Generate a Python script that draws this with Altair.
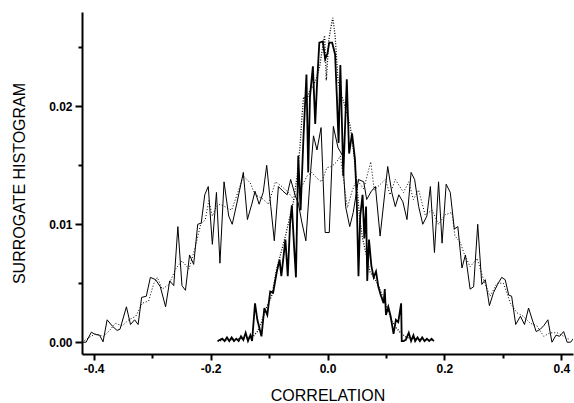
import altair as alt
import pandas as pd

# ---- data ----
wide_solid_x = [-0.42, -0.413, -0.404, -0.397, -0.39, -0.384, -0.377, -0.368, -0.36, -0.355,
                -0.344, -0.337, -0.33, -0.324, -0.318, -0.31, -0.303, -0.294, -0.286, -0.277,
                -0.27, -0.263, -0.256, -0.249, -0.243, -0.236, -0.229, -0.222, -0.216, -0.21,
                -0.204, -0.197, -0.19, -0.184, -0.177, -0.169, -0.163, -0.155, -0.144, -0.137,
                -0.129, -0.124, -0.117, -0.11, -0.104, -0.097, -0.091, -0.084, -0.076, -0.069,
                -0.063, -0.055, -0.05, -0.044, -0.037, -0.029, -0.024, -0.018, -0.011, -0.004,
                0.003, 0.01, 0.018, 0.026, 0.031, 0.038, 0.044, 0.053, 0.062, 0.067,
                0.075, 0.082, 0.09, 0.103, 0.11, 0.116, 0.122, 0.129, 0.136, 0.143,
                0.149, 0.156, 0.163, 0.17, 0.176, 0.183, 0.19, 0.196, 0.203, 0.21,
                0.217, 0.223, 0.23, 0.236, 0.244, 0.25, 0.257, 0.264, 0.27, 0.277,
                0.284, 0.291, 0.298, 0.304, 0.31, 0.315, 0.322, 0.33, 0.337, 0.344,
                0.351, 0.357, 0.364, 0.37, 0.377, 0.384, 0.391, 0.397, 0.404, 0.41,
                0.416, 0.422]
wide_solid_y = [0.0, 0.0, 0.00085, 0.00065, 0.0006, 0.00003, 0.0019, 0.00136, 0.001, 0.0011,
                0.003, 0.0015, 0.0019, 0.0015, 0.0038, 0.0039, 0.0055, 0.0053, 0.0047, 0.003,
                0.0052, 0.0048, 0.0098, 0.0048, 0.0044, 0.0074, 0.0066, 0.01, 0.0101, 0.0125,
                0.0132, 0.0083, 0.0127, 0.0067, 0.0136, 0.0107, 0.01, 0.0118, 0.0144, 0.0104,
                0.0118, 0.0128, 0.0117, 0.0127, 0.015, 0.0115, 0.0086, 0.0132, 0.0128, 0.0125,
                0.0138, 0.0124, 0.0118, 0.0102, 0.0086, 0.0144, 0.0175, 0.0163, 0.0182, 0.0093,
                0.0093, 0.0183, 0.0165, 0.0158, 0.0115, 0.0098, 0.011, 0.0138, 0.0136, 0.0121,
                0.0128, 0.0132, 0.009, 0.0149, 0.0127, 0.0115, 0.0125, 0.0119, 0.0104, 0.0144,
                0.0138, 0.0115, 0.01, 0.0107, 0.0132, 0.0076, 0.0136, 0.0084, 0.0134, 0.0127,
                0.0096, 0.0098, 0.0063, 0.0074, 0.0045, 0.0047, 0.01, 0.0049, 0.0053, 0.0031,
                0.0042, 0.0049, 0.0055, 0.0053, 0.004, 0.0039, 0.0015, 0.0022, 0.0015, 0.0029,
                0.0018, 0.0009, 0.0011, 0.0014, 0.0019, 0.0, 0.0006, 0.0005, 0.0009, 0.0,
                0.0, 0.0004]

wide_dot_x = [-0.42, -0.408, -0.397, -0.383, -0.371, -0.363, -0.351, -0.34, -0.328, -0.317,
              -0.306, -0.297, -0.291, -0.283, -0.271, -0.26, -0.249, -0.237, -0.226, -0.217,
              -0.209, -0.203, -0.197, -0.19, -0.184, -0.172, -0.164, -0.152, -0.144, -0.132,
              -0.124, -0.112, -0.101, -0.089, -0.078, -0.067, -0.058, -0.047, -0.035, -0.027,
              -0.018, -0.01, -0.001, 0.007, 0.016, 0.022, 0.029, 0.034, 0.042, 0.05,
              0.062, 0.074, 0.08, 0.099, 0.107, 0.116, 0.13, 0.139, 0.147, 0.156,
              0.167, 0.179, 0.19, 0.201, 0.213, 0.218, 0.227, 0.233, 0.244, 0.256,
              0.267, 0.278, 0.29, 0.301, 0.313, 0.324, 0.335, 0.347, 0.358, 0.37,
              0.381, 0.393, 0.404, 0.415]
wide_dot_y = [0.0, 0.0004, 0.0007, 0.0005, 0.0011, 0.0016, 0.0014, 0.0019, 0.0022, 0.0033,
              0.0035, 0.005, 0.0055, 0.0045, 0.0049, 0.0062, 0.0069, 0.0062, 0.0081, 0.01,
              0.0104, 0.012, 0.0107, 0.0115, 0.0117, 0.0114, 0.0112, 0.0129, 0.0141, 0.0135,
              0.0125, 0.0122, 0.0117, 0.0136, 0.0132, 0.0127, 0.0121, 0.0129, 0.0141, 0.0144,
              0.0139, 0.0136, 0.0148, 0.0149, 0.0153, 0.0158, 0.0132, 0.0114, 0.0128, 0.0138,
              0.013, 0.0153, 0.0129, 0.0138, 0.0125, 0.0138, 0.0127, 0.0136, 0.0121, 0.0129,
              0.0108, 0.0112, 0.01, 0.0108, 0.011, 0.009, 0.0085, 0.0076, 0.0064, 0.0071,
              0.0053, 0.0039, 0.005, 0.005, 0.0033, 0.0025, 0.0022, 0.0016, 0.0014, 0.0005,
              0.0008, 0.0008, 0.0005, 0.0002]

narrow_solid_x = [-0.188, -0.18, -0.176, -0.172, -0.168, -0.164, -0.16, -0.156, -0.152, -0.148,
                  -0.144, -0.14, -0.136, -0.132, -0.129, -0.124, -0.12, -0.113, -0.108, -0.103,
                  -0.098, -0.093, -0.087, -0.082, -0.079, -0.072, -0.068, -0.064, -0.061, -0.057,
                  -0.054, -0.05, -0.046, -0.041, -0.036, -0.033, -0.03, -0.025, -0.021, -0.018,
                  -0.014, -0.008, -0.004, 0.0, 0.003, 0.008, 0.013, 0.016, 0.019, 0.022,
                  0.025, 0.027, 0.033, 0.037, 0.042, 0.047, 0.05, 0.053, 0.056, 0.06,
                  0.063, 0.066, 0.068, 0.071, 0.075, 0.079, 0.083, 0.087, 0.091, 0.096,
                  0.098, 0.1, 0.104, 0.108, 0.113, 0.117, 0.121, 0.126, 0.127, 0.13,
                  0.134, 0.139, 0.143, 0.147, 0.15, 0.154, 0.158, 0.162, 0.166, 0.17,
                  0.174, 0.178, 0.182]
narrow_solid_y = [0.0001, 0.0003, 0.0001, 0.0004, 0.0001, 0.0004, 0.0001, 0.0003, 0.0001, 0.0005,
                  0.0002, 0.0008, 0.0001, 0.0006, 0.0001, 0.0033, 0.0019, 0.0005, 0.0029, 0.0023,
                  0.0043, 0.0042, 0.0059, 0.007, 0.0056, 0.0087, 0.0056, 0.0101, 0.0116, 0.008,
                  0.0055, 0.0158, 0.0112, 0.0175, 0.0227, 0.0144, 0.0208, 0.0234, 0.0185, 0.0218,
                  0.0254, 0.0255, 0.024, 0.0245, 0.0254, 0.0254, 0.0244, 0.0208, 0.0169, 0.0235,
                  0.018, 0.0141, 0.0223, 0.016, 0.0177, 0.0155, 0.0121, 0.0056, 0.0107, 0.0125,
                  0.0088, 0.0115, 0.0052, 0.0087, 0.0065, 0.0055, 0.006, 0.0047, 0.004, 0.0033,
                  0.0045, 0.0023, 0.003, 0.0022, 0.0007, 0.0019, 0.0017, 0.0033, 0.0001, 0.0001,
                  0.0002, 0.0008, 0.0001, 0.0006, 0.0001, 0.0004, 0.0001, 0.0004, 0.0001, 0.0003,
                  0.0001, 0.0003, 0.0001]

narrow_dot_x = [-0.188, -0.17, -0.15, -0.135, -0.127, -0.12, -0.115, -0.104, -0.095, -0.087,
                -0.08, -0.072, -0.065, -0.058, -0.052, -0.047, -0.044, -0.041, -0.036, -0.03,
                -0.024, -0.018, -0.013, -0.01, -0.005, -0.002, 0.002, 0.005, 0.009, 0.013,
                0.018, 0.022, 0.027, 0.033, 0.039, 0.044, 0.05, 0.055, 0.06, 0.066,
                0.073, 0.08, 0.087, 0.095, 0.103, 0.11, 0.118, 0.125, 0.135, 0.15,
                0.165, 0.18]
narrow_dot_y = [0.0001, 0.0002, 0.0003, 0.0004, 0.0005, 0.0009, 0.0014, 0.003, 0.004, 0.0062,
                0.0075, 0.009, 0.0105, 0.012, 0.0141, 0.0166, 0.0189, 0.0208, 0.0205, 0.0214,
                0.0218, 0.0225, 0.0235, 0.0245, 0.026, 0.0222, 0.0255, 0.0265, 0.0275, 0.026,
                0.0222, 0.0211, 0.0205, 0.0194, 0.0183, 0.0165, 0.0135, 0.0105, 0.0088, 0.0075,
                0.0059, 0.0055, 0.0048, 0.0038, 0.0028, 0.0018, 0.0012, 0.0008, 0.0004, 0.0003,
                0.0002, 0.0002]

x_major = [-0.4, -0.2, 0.0, 0.2, 0.4]
x_minor = [-0.3, -0.1, 0.1, 0.3]
y_major = [0.0, 0.01, 0.02]
y_minor = [0.005, 0.015, 0.025]

FONT = "Liberation Sans"

x_scale = alt.Scale(domain=[-0.42, 0.42], nice=False, zero=False)
y_scale = alt.Scale(domain=[-0.001, 0.028], nice=False, zero=False)


def frame(xs, ys):
    return pd.DataFrame({"corr": xs, "hist": ys})


common_axis = dict(grid=False, domainColor="black", domainWidth=2, tickColor="black",
                   tickWidth=2, labelFont=FONT, labelFontSize=12, labelFontWeight="bold",
                   labelColor="black", titleFont=FONT, titleFontSize=16,
                   titleFontWeight="normal", titleColor="black")

x_axis = alt.Axis(values=x_major, orient="bottom", tickSize=6, labelPadding=3,
                  labelExpr="datum.value < 0 ? '-' + format(-datum.value, '.1f') : format(datum.value, '.1f')",
                  title="CORRELATION", titleX=245.5, titleY=46, titleAlign="center",
                  titleBaseline="alphabetic", **common_axis)
y_axis = alt.Axis(values=y_major, orient="left", tickSize=7, labelPadding=3, format=".2f",
                  title="SURROGATE HISTOGRAM", titleX=-58, titleY=171, titleAngle=-90,
                  titleAlign="center", titleBaseline="alphabetic", **common_axis)

x_axis_minor = alt.Axis(values=x_minor, orient="bottom", tickSize=4, labels=False,
                        domain=False, grid=False, tickColor="black", tickWidth=2, title=None)
y_axis_minor = alt.Axis(values=y_minor, orient="left", tickSize=4, labels=False,
                        domain=False, grid=False, tickColor="black", tickWidth=2, title=None)


def line(df, width, dash=None, xaxis=None, yaxis=None):
    kw = dict(color="black", strokeWidth=width, clip=True)
    if dash is not None:
        kw["strokeDash"] = dash
    return alt.Chart(df).mark_line(**kw).encode(
        x=alt.X("corr:Q", scale=x_scale, axis=xaxis),
        y=alt.Y("hist:Q", scale=y_scale, axis=yaxis),
    )


chart = alt.layer(
    line(frame(wide_dot_x, wide_dot_y), 1.0, [1, 2], x_axis, y_axis),
    line(frame(wide_solid_x, wide_solid_y), 1.0, None, x_axis_minor, y_axis_minor),
    line(frame(narrow_dot_x, narrow_dot_y), 1.3, [1, 1.6]),
    line(frame(narrow_solid_x, narrow_solid_y), 1.8),
).resolve_scale(x="shared", y="shared").resolve_axis(
    x="independent", y="independent"
).properties(
    width=491, height=342,
    padding={"left": 82, "top": 12, "right": 1, "bottom": 49},
    autosize=alt.AutoSizeParams(type="none"),
    background="white",
).configure_view(strokeWidth=0)

chart.save("out.html", embed_options={"renderer": "svg", "actions": False})
